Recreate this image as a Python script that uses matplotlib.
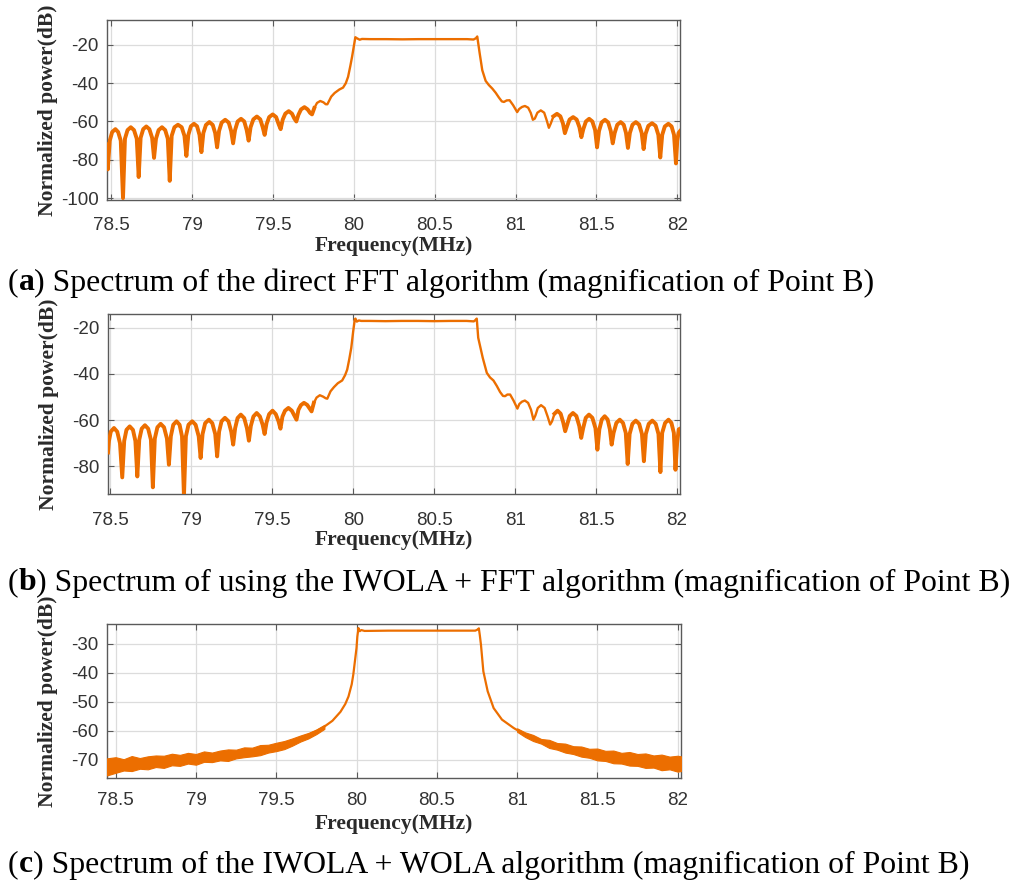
import matplotlib
matplotlib.use("Agg")
import matplotlib.pyplot as plt
import numpy as np

plt.rcParams['axes.unicode_minus'] = False

# ---------------- data (MHz, dB) ----------------
# Panel (a): direct FFT
a_left = [
    (78.473, -72), (78.478, -85), (78.490, -70), (78.505, -65.5), (78.525, -64), (78.542, -65.5), (78.558, -70),
    (78.572, -100), (78.584, -69), (78.600, -64.5), (78.620, -63), (78.640, -64.5), (78.657, -69),
    (78.669, -89), (78.681, -68.5), (78.697, -64), (78.716, -62.6), (78.735, -64), (78.752, -68.5),
    (78.764, -79), (78.776, -69), (78.792, -64.5), (78.813, -63), (78.833, -64.5), (78.849, -69),
    (78.861, -91), (78.873, -67.5), (78.890, -63), (78.912, -61.7), (78.935, -63), (78.952, -67.5),
    (78.964, -78), (78.976, -67), (78.992, -62.5), (79.011, -61.2), (79.030, -62.5), (79.045, -67),
    (79.057, -76), (79.069, -66), (79.085, -61.8), (79.106, -60.3), (79.127, -61.8), (79.142, -66),
    (79.154, -73.5), (79.166, -65), (79.182, -60.6), (79.204, -59.1), (79.226, -60.6), (79.241, -65),
    (79.253, -71.4), (79.265, -64.5), (79.281, -60), (79.302, -58.6), (79.322, -60), (79.337, -64.5),
    (79.349, -70), (79.361, -63), (79.378, -58.9), (79.400, -57.4), (79.421, -58.9), (79.436, -63),
    (79.448, -67), (79.460, -61.5), (79.476, -57.7), (79.498, -56.3), (79.519, -57.7), (79.535, -61.5),
    (79.547, -64), (79.560, -59), (79.576, -55.9), (79.597, -54.6), (79.617, -55.9), (79.632, -58.5),
    (79.644, -60), (79.657, -56.5), (79.673, -53.7), (79.694, -52.5), (79.714, -53.7), (79.729, -55.5),
    (79.741, -56.3), (79.755, -53), (79.772, -50.3), (79.792, -49.3), (79.812, -50), (79.826, -51),
    (79.836, -51), (79.860, -47), (79.881, -45.1), (79.910, -43.3), (79.933, -42.3), (79.950, -40),
    (79.964, -36.7), (79.978, -31), (79.989, -26.1), (80.000, -20.5), (80.009, -16),
]
a_pass = [
    (80.020, -16.6), (80.036, -17.3), (80.050, -16.9), (80.100, -17.0), (80.200, -17.0), (80.300, -17.1),
    (80.400, -17.0), (80.500, -17.0), (80.600, -17.0), (80.700, -17.0), (80.740, -17.2), (80.755, -16.5),
    (80.763, -15.6),
]
a_right = [
    (80.778, -24.4), (80.794, -33.2), (80.815, -38.8), (80.835, -41), (80.856, -42.8), (80.877, -45),
    (80.897, -47.5), (80.915, -49.5), (80.928, -49.8), (80.945, -49), (80.963, -48.9), (80.985, -51.5),
    (81.010, -55.1), (81.022, -53.5), (81.040, -52.4), (81.058, -51.9), (81.078, -52.8), (81.094, -55.5),
    (81.107, -59.1), (81.119, -58.5), (81.135, -55.4), (81.156, -54.2), (81.177, -55.4), (81.193, -59.5),
    (81.206, -63.3), (81.218, -61), (81.234, -57.3), (81.256, -56), (81.277, -57.3), (81.293, -61),
    (81.305, -66.1), (81.317, -63), (81.334, -59), (81.356, -57.7), (81.378, -59), (81.395, -63),
    (81.407, -68.2), (81.419, -64), (81.435, -60), (81.455, -58.6), (81.475, -60), (81.492, -64.5),
    (81.504, -73.5), (81.516, -65), (81.532, -60.5), (81.553, -59.1), (81.573, -60.5), (81.589, -65),
    (81.601, -71.4), (81.613, -66), (81.629, -61.7), (81.650, -60.3), (81.669, -61.7), (81.683, -66),
    (81.695, -73.8), (81.707, -66), (81.723, -61.7), (81.744, -60.3), (81.764, -61.7), (81.780, -66),
    (81.792, -74.4), (81.804, -66.5), (81.821, -62.3), (81.844, -60.9), (81.866, -62.3), (81.883, -67),
    (81.895, -78.8), (81.907, -67), (81.923, -62.6), (81.945, -61.2), (81.965, -62.6), (81.980, -67),
    (81.992, -81.9), (82.000, -70), (82.008, -66), (82.017, -65),
]

# Panel (b): IWOLA + FFT
b_left = [
    (78.486, -74), (78.492, -69), (78.503, -65), (78.523, -63.4), (78.543, -65), (78.560, -70),
    (78.574, -84.8), (78.586, -69), (78.600, -64.2), (78.620, -62.7), (78.640, -64.2), (78.655, -69),
    (78.667, -84.4), (78.679, -68.5), (78.694, -63.7), (78.714, -62.2), (78.734, -63.7), (78.751, -68.5),
    (78.763, -89.1), (78.775, -68), (78.791, -63.1), (78.811, -61.6), (78.832, -63.1), (78.850, -68),
    (78.862, -79.3), (78.874, -67), (78.889, -62), (78.909, -60.5), (78.928, -62), (78.943, -67),
    (78.955, -93), (78.967, -67), (78.983, -62), (79.006, -60.5), (79.027, -62), (79.046, -67),
    (79.058, -76.4), (79.070, -66), (79.086, -61.3), (79.109, -59.8), (79.130, -61.3), (79.148, -66),
    (79.160, -75.7), (79.172, -65), (79.187, -60.5), (79.208, -59), (79.230, -60.5), (79.247, -65),
    (79.259, -70.6), (79.271, -63.5), (79.286, -59.1), (79.306, -57.6), (79.327, -59.1), (79.344, -63.5),
    (79.356, -68.9), (79.368, -62.5), (79.384, -58.4), (79.404, -56.9), (79.424, -58.4), (79.441, -62),
    (79.453, -66), (79.465, -61), (79.481, -57.4), (79.502, -55.9), (79.522, -57.4), (79.539, -60.5),
    (79.551, -63.7), (79.563, -58.5), (79.579, -55.9), (79.600, -54.7), (79.621, -55.9), (79.637, -58),
    (79.650, -59.8), (79.662, -55.5), (79.677, -53.5), (79.696, -52.5), (79.716, -53.4), (79.731, -55),
    (79.743, -56.2), (79.757, -52.5), (79.774, -50.2), (79.794, -49.2), (79.814, -49.8), (79.830, -50.5),
    (79.840, -50.7), (79.860, -47.5), (79.881, -45.7), (79.905, -44), (79.932, -42.8), (79.950, -40.5),
    (79.963, -38.1), (79.976, -33.5), (79.988, -28.7), (80.000, -21.5), (80.010, -16.3), (80.014, -16),
]
b_pass = [
    (80.022, -17.3), (80.035, -16.8), (80.050, -17.0), (80.100, -17.0), (80.200, -17.1), (80.300, -17.0),
    (80.400, -17.0), (80.500, -17.1), (80.600, -17.0), (80.700, -17.0), (80.745, -17.2), (80.755, -16.6),
    (80.763, -16),
]
b_right = [
    (80.772, -24.3), (80.800, -33), (80.825, -39.5), (80.845, -41.5), (80.866, -42.8), (80.887, -45.2),
    (80.907, -47.8), (80.925, -49.5), (80.938, -49.6), (80.952, -48.9), (80.969, -48.9), (80.990, -51.5),
    (81.014, -55), (81.026, -53), (81.042, -52), (81.060, -51.5), (81.080, -52.5), (81.098, -55.5),
    (81.113, -59.8), (81.125, -58), (81.140, -54.7), (81.160, -53.5), (81.182, -54.7), (81.201, -58.5),
    (81.216, -61.9), (81.228, -60.5), (81.243, -57.2), (81.262, -55.9), (81.281, -57.2), (81.297, -61),
    (81.309, -64.8), (81.321, -62), (81.337, -58.2), (81.357, -56.9), (81.378, -58.2), (81.396, -62.5),
    (81.408, -67.7), (81.420, -63.5), (81.436, -59), (81.456, -57.6), (81.477, -59), (81.496, -63.5),
    (81.508, -72.8), (81.520, -64), (81.535, -59.7), (81.553, -58.3), (81.571, -59.7), (81.585, -64),
    (81.596, -70.6), (81.608, -65.5), (81.625, -61.2), (81.646, -59.8), (81.666, -61.2), (81.683, -65.5),
    (81.695, -79), (81.707, -66), (81.724, -61.6), (81.745, -60.2), (81.766, -61.6), (81.783, -66),
    (81.795, -77.8), (81.807, -66), (81.825, -61.6), (81.847, -60.2), (81.868, -61.6), (81.885, -66),
    (81.897, -82.5), (81.908, -65.5), (81.926, -61.2), (81.947, -59.8), (81.965, -61.2), (81.980, -65.5),
    (81.990, -81.5), (82.000, -70), (82.010, -64), (82.018, -63.7),
]

# Panel (c): IWOLA + WOLA  -- centre of the trace
c_freq = [78.446, 78.5, 78.6, 78.7, 78.8, 78.9, 79.0, 79.1, 79.2, 79.3, 79.4, 79.5, 79.6, 79.65, 79.7,
          79.75, 79.8, 79.85, 79.9, 79.93, 79.95, 79.97, 79.98, 79.99, 80.0, 80.005, 80.012, 80.02, 80.03,
          80.05, 80.2, 80.4, 80.6, 80.74, 80.755, 80.762, 80.768, 80.775, 80.79, 80.817, 80.854, 80.906,
          80.979, 81.042, 81.1, 81.146, 81.2, 81.25, 81.3, 81.375, 81.45, 81.5, 81.6, 81.667, 81.75,
          81.833, 81.9, 81.95, 82.021]
c_power = [-72.3, -71.8, -71.4, -71.0, -70.5, -69.9, -69.6, -69.0, -68.3, -67.5, -66.4, -65.3, -63.6, -62.5,
           -61.5, -60.2, -58.6, -56.6, -53.5, -50.8, -48.2, -44.0, -40.6, -36.0, -31.4, -27.5, -24.5, -25.6,
           -25.2, -25.5, -25.4, -25.4, -25.4, -25.4, -25.0, -24.6, -27.0, -30.2, -39.5, -46.4, -52.2, -56.2,
           -59.1, -61.2, -62.6, -63.6, -64.6, -65.4, -66.1, -67.0, -67.8, -68.3, -69.1, -69.6, -70.1,
           -70.6, -71.0, -71.2, -71.5]
# noise envelope of panel (c), lower-frequency side
c_left_freq = [78.446, 78.5, 78.55, 78.6, 78.65, 78.7, 78.75, 78.8, 78.85, 78.9, 78.95, 79.0, 79.05, 79.1,
               79.15, 79.2, 79.25, 79.3, 79.35, 79.4, 79.45, 79.5, 79.55, 79.6, 79.65, 79.7, 79.75, 79.8]
c_left_upper = [-69.6, -69.2, -69.9, -68.8, -69.5, -68.9, -68.6, -68.7, -68.0, -68.4, -67.7, -68.1, -67.2, -67.6,
                -66.9, -66.5, -66.6, -65.8, -65.9, -65.0, -64.9, -64.2, -63.6, -62.7, -61.7, -60.8, -59.6, -58.0]
c_left_lower = [-75.5, -74.6, -73.8, -74.0, -73.2, -73.4, -72.6, -72.9, -72.0, -72.2, -71.4, -71.8, -70.8, -70.9,
                -70.3, -70.5, -69.6, -69.2, -68.9, -68.5, -67.6, -67.1, -66.4, -65.2, -63.8, -62.7, -61.2, -59.4]
# noise envelope of panel (c), higher-frequency side
c_right_freq = [81.0, 81.05, 81.1, 81.15, 81.2, 81.25, 81.3, 81.35, 81.4, 81.45, 81.5, 81.55, 81.6, 81.65,
                81.7, 81.75, 81.8, 81.85, 81.9, 81.95, 82.0, 82.021]
c_right_upper = [-59.2, -60.6, -61.5, -62.9, -63.2, -64.3, -64.5, -65.4, -65.5, -66.3, -66.2, -67.0, -66.9, -67.7,
                 -67.4, -68.1, -67.9, -68.6, -68.3, -69.0, -68.7, -68.9]
c_right_lower = [-60.4, -62.2, -63.6, -64.5, -66.0, -66.6, -67.6, -68.1, -69.0, -69.4, -70.3, -70.5, -71.3, -71.4,
                 -72.1, -72.2, -72.9, -72.8, -73.7, -73.4, -74.2, -74.0]

x_ticks = [78.5, 79, 79.5, 80, 80.5, 81, 81.5, 82]
x_ticklabels = ["78.5", "79", "79.5", "80", "80.5", "81", "81.5", "82"]
y_ticks_a = [-100, -80, -60, -40, -20]
y_ticks_b = [-80, -60, -40, -20]
y_ticks_c = [-70, -60, -50, -40, -30]

captions = [
    ("a", ") Spectrum of the direct FFT algorithm (magnification of Point B)"),
    ("b", ") Spectrum of using the IWOLA + FFT algorithm (magnification of Point B)"),
    ("c", ") Spectrum of the IWOLA + WOLA algorithm (magnification of Point B)"),
]

# ---------------- styling ----------------
W, H = 1027, 889
ORANGE = "#EC6E00"
fig = plt.figure(figsize=(W / 100, H / 100), dpi=100)

def px_axes(left, top, right, bottom):
    return fig.add_axes([left / W, 1 - bottom / H, (right - left) / W, (bottom - top) / H])

def style(ax, xlim, ylim, yticks, xlabel_off_px, ax_h_px, xpad):
    ax.set_xlim(*xlim)
    ax.set_ylim(*ylim)
    ax.set_xticks(x_ticks)
    ax.set_xticklabels(x_ticklabels)
    ax.set_yticks(yticks)
    ax.set_yticklabels([str(v) for v in yticks])
    ax.grid(True, color="#dcdcdc", linewidth=0.9)
    ax.set_axisbelow(True)
    for s in ax.spines.values():
        s.set_color("#5a5a5a")
        s.set_linewidth(1.0)
    ax.tick_params(direction="in", top=True, right=True, length=4, width=0.8,
                   color="#5a5a5a", labelcolor="#333333", labelsize=13.5,
                   labelfontfamily="Liberation Sans")
    ax.tick_params(axis="x", pad=xpad)
    ax.tick_params(axis="y", pad=6)
    ax.set_xlabel("Frequency(MHz)", fontfamily="Liberation Serif", fontweight="bold",
                  fontsize=15.5, color="#2a2a2a", va="center")
    ax.xaxis.set_label_coords(0.5, -xlabel_off_px / ax_h_px)
    ax.set_ylabel("Normalized power(dB)", fontfamily="Liberation Serif", fontweight="bold",
                  fontsize=15.5, color="#2a2a2a", va="center", ha="center")
    ax.yaxis.set_label_coords(-59 / 573, 0.5)

def plot_lobes(ax, *segments):
    pts = [p for seg in segments for p in seg]
    f = np.array([p[0] for p in pts])
    v = np.array([p[1] for p in pts])
    ax.plot(f, v, color=ORANGE, lw=1.7, solid_joinstyle="round", zorder=3)
    outer = (f < 79.75) | (f > 81.25)
    mask = outer | np.roll(outer, 1) | np.roll(outer, -1)
    ax.plot(f, np.where(mask, v, np.nan), color=ORANGE, lw=2.8,
            solid_joinstyle="round", zorder=3)

# Panel (a)
ax_a = px_axes(107, 20, 680, 200)
plot_lobes(ax_a, a_left, a_pass, a_right)
style(ax_a, (78.473, 82.017), (-101, -7), y_ticks_a, 46, 180, 12)

# Panel (b)
ax_b = px_axes(108, 314, 680, 494)
plot_lobes(ax_b, b_left, b_pass, b_right)
style(ax_b, (78.486, 82.018), (-92, -14), y_ticks_b, 46, 180, 13)

# Panel (c)
ax_c = px_axes(107, 624, 681, 778)
ax_c.fill_between(c_left_freq, c_left_lower, c_left_upper, color=ORANGE, lw=0.8, zorder=3)
ax_c.fill_between(c_right_freq, c_right_lower, c_right_upper, color=ORANGE, lw=0.8, zorder=3)
ax_c.plot(c_freq, c_power, color=ORANGE, lw=1.6, zorder=3)
style(ax_c, (78.446, 82.021), (-76.4, -23.1), y_ticks_c, 46, 154, 10)

# ---------------- captions ----------------
renderer = fig.canvas.get_renderer()
cap_y = [283, 583, 865]
cap_target_w = 868.0

def make_caption(x0, y, letter, rest, fs):
    parts = [("(", "normal"), (letter, "bold"), (rest, "normal")]
    x = x0
    objs = []
    for txt, wt in parts:
        t = fig.text(x / W, 1 - y / H, txt, fontsize=fs, fontweight=wt,
                     fontfamily="Liberation Serif", color="black", va="center", ha="left")
        w = t.get_window_extent(renderer).width
        objs.append(t)
        x += w
    return objs, x - x0

# fit font size to the measured width of caption (a)
objs, wtest = make_caption(8, cap_y[0], captions[0][0], captions[0][1], 16)
for o in objs:
    o.remove()
fs = 16 * cap_target_w / wtest
for (letter, rest), y in zip(captions, cap_y):
    make_caption(8, y, letter, rest, fs)

fig.savefig("out.png", dpi=100)
